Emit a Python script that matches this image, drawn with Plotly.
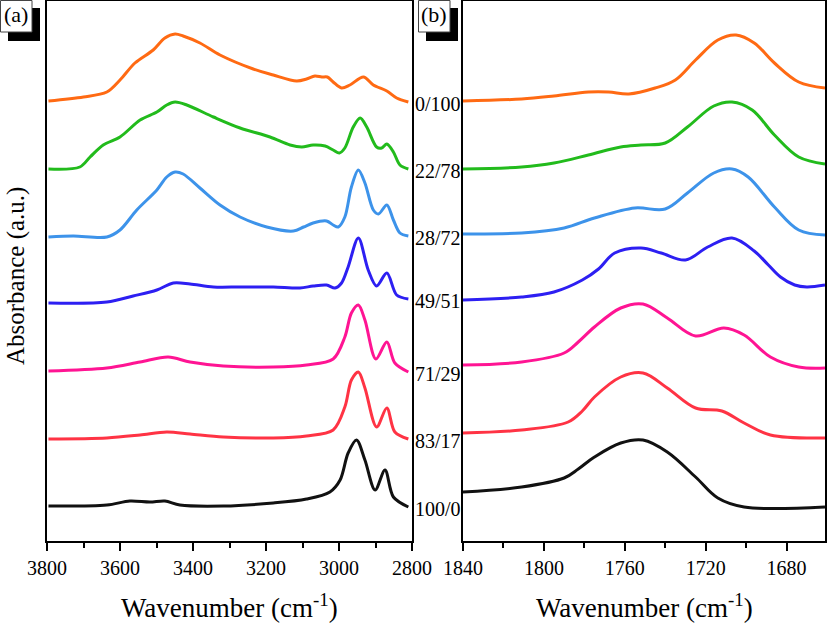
import plotly.graph_objects as go

# ---------------- data (absorbance, arbitrary offset units) ----------------
labels = ["0/100", "22/78", "28/72", "49/51", "71/29", "83/17", "100/0"]
colors = ["#ff6a13", "#22bb1c", "#3d93ea", "#2d1ff2", "#ff1493", "#ff3344", "#111111"]

# Panel (a): 3800-2800 cm-1
wn_a = {
    "0/100": [3796, 3700, 3636, 3600, 3559, 3509, 3477, 3449, 3427, 3381, 3326, 3235, 3180, 3116, 3089, 3066, 3047, 3032, 3016, 2993, 2970, 2933, 2906, 2869, 2842, 2810],
    "22/78": [3796, 3710, 3682, 3646, 3600, 3545, 3499, 3472, 3449, 3417, 3344, 3271, 3189, 3134, 3102, 3071, 3038, 3016, 2999, 2984, 2961, 2942, 2924, 2897, 2883, 2869, 2851, 2833, 2810],
    "28/72": [3796, 3728, 3636, 3600, 3554, 3499, 3472, 3449, 3427, 3381, 3326, 3271, 3198, 3125, 3097, 3071, 3034, 3016, 3002, 2984, 2966, 2947, 2929, 2906, 2892, 2869, 2851, 2833, 2810],
    "49/51": [3796, 3636, 3564, 3499, 3454, 3408, 3344, 3271, 3180, 3107, 3071, 3034, 3011, 2993, 2975, 2947, 2920, 2897, 2869, 2842, 2810],
    "71/29": [3796, 3636, 3545, 3468, 3408, 3317, 3180, 3089, 3016, 2984, 2966, 2947, 2929, 2899, 2869, 2847, 2810],
    "83/17": [3796, 3636, 3545, 3472, 3408, 3317, 3180, 3089, 3016, 2984, 2966, 2947, 2929, 2897, 2869, 2847, 2810],
    "100/0": [3796, 3636, 3573, 3518, 3477, 3436, 3317, 3180, 3089, 3025, 2997, 2975, 2952, 2929, 2901, 2874, 2851, 2810],
}
abs_a = {
    "0/100": [4.40, 4.44, 4.49, 4.61, 4.78, 4.91, 5.03, 5.07, 5.05, 4.98, 4.86, 4.72, 4.66, 4.60, 4.62, 4.65, 4.64, 4.64, 4.59, 4.53, 4.56, 4.64, 4.56, 4.50, 4.43, 4.39],
    "22/78": [3.72, 3.74, 3.84, 3.96, 4.04, 4.21, 4.29, 4.36, 4.39, 4.36, 4.24, 4.13, 4.04, 3.96, 3.94, 3.96, 3.95, 3.91, 3.88, 3.93, 4.14, 4.23, 4.14, 3.94, 3.93, 3.97, 3.89, 3.76, 3.72],
    "28/72": [3.04, 3.05, 3.04, 3.11, 3.31, 3.51, 3.64, 3.69, 3.67, 3.53, 3.36, 3.24, 3.14, 3.10, 3.14, 3.18, 3.20, 3.16, 3.14, 3.24, 3.54, 3.71, 3.58, 3.31, 3.27, 3.36, 3.21, 3.08, 3.05],
    "49/51": [2.38, 2.39, 2.45, 2.51, 2.58, 2.57, 2.54, 2.54, 2.54, 2.53, 2.55, 2.56, 2.53, 2.58, 2.74, 3.03, 2.71, 2.55, 2.68, 2.46, 2.42],
    "71/29": [1.70, 1.73, 1.79, 1.84, 1.79, 1.75, 1.74, 1.76, 1.82, 2.04, 2.28, 2.36, 2.21, 1.82, 1.99, 1.78, 1.69],
    "83/17": [1.02, 1.03, 1.06, 1.09, 1.07, 1.04, 1.03, 1.05, 1.11, 1.34, 1.61, 1.69, 1.53, 1.14, 1.33, 1.09, 1.02],
    "100/0": [0.35, 0.36, 0.40, 0.39, 0.40, 0.36, 0.35, 0.38, 0.42, 0.49, 0.61, 0.88, 1.01, 0.81, 0.51, 0.71, 0.44, 0.34],
}

# Panel (b): 1840-1661 cm-1
wn_b = {
    "0/100": [1840, 1811, 1795, 1778, 1768, 1758, 1745, 1735, 1725, 1714, 1705, 1696, 1686, 1674, 1661],
    "22/78": [1840, 1811, 1795, 1778, 1762, 1752, 1740, 1729, 1716, 1707, 1697, 1686, 1674, 1661],
    "28/72": [1840, 1811, 1790, 1775, 1755, 1740, 1729, 1716, 1707, 1699, 1686, 1674, 1661],
    "49/51": [1840, 1811, 1795, 1781, 1773, 1765, 1752, 1742, 1730, 1719, 1707, 1696, 1689, 1683, 1676, 1670, 1661],
    "71/29": [1840, 1811, 1790, 1783, 1775, 1762, 1751, 1739, 1725, 1711, 1701, 1688, 1674, 1661],
    "83/17": [1840, 1811, 1788, 1781, 1775, 1762, 1751, 1739, 1725, 1712, 1701, 1688, 1661],
    "100/0": [1840, 1811, 1790, 1783, 1775, 1762, 1751, 1739, 1725, 1714, 1701, 1661],
}
abs_b = {
    "0/100": [4.40, 4.42, 4.45, 4.49, 4.49, 4.47, 4.53, 4.61, 4.81, 5.01, 5.06, 4.98, 4.78, 4.59, 4.53],
    "22/78": [3.72, 3.74, 3.78, 3.86, 3.94, 3.96, 3.98, 4.14, 4.35, 4.39, 4.31, 4.06, 3.84, 3.77],
    "28/72": [3.07, 3.08, 3.13, 3.23, 3.33, 3.32, 3.48, 3.68, 3.72, 3.64, 3.34, 3.11, 3.06],
    "49/51": [2.41, 2.44, 2.49, 2.61, 2.72, 2.88, 2.93, 2.88, 2.81, 2.94, 3.03, 2.90, 2.76, 2.64, 2.56, 2.54, 2.56],
    "71/29": [1.76, 1.79, 1.88, 1.99, 2.14, 2.33, 2.37, 2.23, 2.05, 2.13, 2.06, 1.84, 1.74, 1.73],
    "83/17": [1.08, 1.11, 1.19, 1.30, 1.44, 1.64, 1.68, 1.53, 1.33, 1.30, 1.18, 1.06, 1.03],
    "100/0": [0.49, 0.54, 0.63, 0.72, 0.84, 0.98, 1.01, 0.89, 0.64, 0.43, 0.34, 0.34],
}

# ---------------- figure ----------------
W, H = 827, 629
L, R, T, B = 47, 2, 1, 88
PW = W - L - R
PH = H - T - B


def px_x(p):
    return (p - L) / PW


def px_y(p):
    return (H - B - p) / PH


FONT = "Liberation Serif"

fig = go.Figure()
for lab, col in zip(labels, colors):
    fig.add_trace(go.Scatter(x=wn_a[lab], y=abs_a[lab], mode="lines",
                             line=dict(color=col, width=3, shape="spline", smoothing=0.9),
                             xaxis="x", yaxis="y", showlegend=False, hoverinfo="skip"))
    fig.add_trace(go.Scatter(x=wn_b[lab], y=abs_b[lab], mode="lines",
                             line=dict(color=col, width=3, shape="spline", smoothing=1.0),
                             xaxis="x2", yaxis="y2", showlegend=False, hoverinfo="skip"))

axis_common = dict(showline=True, linecolor="black", linewidth=2, mirror=True,
                   showgrid=False, zeroline=False, ticks="outside", ticklen=8,
                   tickwidth=2, tickcolor="black", automargin=False,
                   tickfont=dict(family=FONT, size=20, color="black"))
yaxis_common = dict(domain=[0, 1], range=[0, 5.40], showline=True, linecolor="black",
                    linewidth=2, mirror=True, showgrid=False, zeroline=False,
                    showticklabels=False, ticks="", automargin=False)

fig.update_layout(
    template="none",
    autosize=False,
    width=W, height=H,
    margin=dict(l=L, r=R, t=T, b=B, pad=0),
    font=dict(family=FONT, color="black"),
    paper_bgcolor="white", plot_bgcolor="white",
    showlegend=False,
    xaxis=dict(domain=[0, px_x(412)], range=[3800, 2800], dtick=200, tick0=2800,
               minor=dict(dtick=100, ticklen=5, tickwidth=2, ticks="outside", tickcolor="black"),
               anchor="y", **axis_common),
    xaxis2=dict(domain=[px_x(463), 1], range=[1840, 1661], dtick=40, tick0=1680,
                minor=dict(dtick=20, ticklen=5, tickwidth=2, ticks="outside", tickcolor="black"),
                anchor="y2", **axis_common),
    yaxis=dict(anchor="x", **yaxis_common),
    yaxis2=dict(anchor="x2", **yaxis_common),
)

annotations = []
# sample labels between panels, aligned with the right end of each left curve
for lab in labels:
    annotations.append(dict(x=px_x(413), y=abs_a[lab][-1] - 0.02, xref="paper", yref="y",
                            text=lab, showarrow=False, xanchor="left", yanchor="middle",
                            font=dict(family=FONT, size=20, color="black")))
# axis titles
for cx in [(47 + 412) / 2, (463 + 825) / 2]:
    annotations.append(dict(x=px_x(cx), y=px_y(606), xref="paper", yref="paper",
                            text="Wavenumber (cm<sup>-1</sup>)", showarrow=False,
                            xanchor="center", yanchor="middle",
                            font=dict(family=FONT, size=27, color="black")))
annotations.append(dict(x=px_x(16), y=px_y(276), xref="paper", yref="paper",
                        text="Absorbance (a.u.)", showarrow=False, textangle=-90,
                        xanchor="center", yanchor="middle",
                        font=dict(family=FONT, size=25, color="black")))

shapes = []
# panel labels with drop-shadow boxes
for (x0, y0, txt) in [(0, 0, "(a)"), (418, 0, "(b)")]:
    shapes.append(dict(type="rect", xref="paper", yref="paper",
                       x0=px_x(x0 + 8), x1=px_x(x0 + 40), y0=px_y(y0 + 41), y1=px_y(y0 + 8),
                       fillcolor="black", line=dict(width=0), layer="above"))
    shapes.append(dict(type="rect", xref="paper", yref="paper",
                       x0=px_x(x0 + 0.5), x1=px_x(x0 + 32), y0=px_y(y0 + 32), y1=px_y(y0 + 0.5),
                       fillcolor="white", line=dict(color="#444", width=1), layer="above"))
    annotations.append(dict(x=px_x(x0 + 16), y=px_y(y0 + 15), xref="paper", yref="paper",
                            text=txt, showarrow=False, xanchor="center", yanchor="middle",
                            font=dict(family=FONT, size=22, color="black")))

fig.update_layout(annotations=annotations, shapes=shapes)
fig.write_html("out.html", config={"responsive": False, "displayModeBar": False})
